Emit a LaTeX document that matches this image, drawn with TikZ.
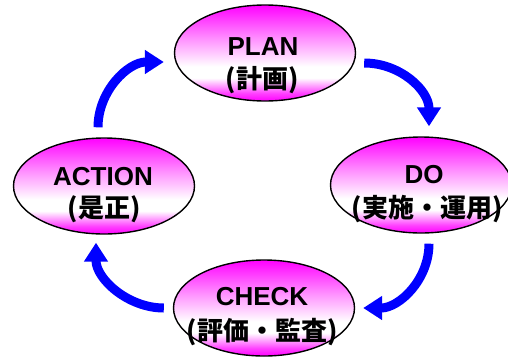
\documentclass[tikz,border=0pt]{standalone}
\usepackage{fontspec}
\setmainfont{Liberation Sans}
\newfontfamily\cjk{Noto Sans CJK JP}
\usetikzlibrary{shapes.geometric,arrows.meta}
\definecolor{mg}{RGB}{255,0,255}
\definecolor{ab}{RGB}{0,0,255}
\pgfdeclareverticalshading{pdca}{100bp}{color(0bp)=(mg); color(25bp)=(mg); color(29bp)=(mg!75!white); color(37bp)=(white); color(43bp)=(white); color(58bp)=(mg!45!white); color(75bp)=(mg); color(100bp)=(mg)}
\tikzset{
  phase/.style={ellipse, draw=black, line width=1.4pt, shade, shading=pdca,
    minimum width=181pt, minimum height=96pt, inner sep=0pt},
  lat/.style={font=\bfseries\fontsize{26}{26}\selectfont, anchor=base, inner sep=0pt},
  jp/.style={font=\cjk\bfseries\fontsize{26}{26}\selectfont, anchor=base, inner sep=0pt},
  arr/.style={draw=ab, line width=9pt, -{Triangle[length=19pt,width=23pt]}}
}
\begin{document}
\begin{tikzpicture}[x=1pt,y=-1pt]
\useasboundingbox (0,0) rectangle (508,359);
\fill[white] (0,0) rectangle (508,359);
\node[phase] (plan) at (265,53) {};
\node[phase] (do) at (421,185) {};
\node[phase] (check) at (264,308) {};
\node[phase] (action) at (104,186) {};
\node[lat] (planA) at (263,55) {PLAN};
\node[jp] (planB) at (262,88) {(計画)};
\node[lat] (doA) at (424,183) {DO};
\node[jp] (doB) at (427,217) {(実施・運用)};
\node[lat] (checkA) at (262,305) {CHECK};
\node[jp] (checkB) at (262,340) {(評価・監査)};
\node[lat] (actionA) at (103,185) {ACTION};
\node[jp] (actionB) at (104,217) {(是正)};
\draw[arr] ([shift={(8,10)}]plan.east) .. controls +(36,0) and +(0,-36) .. ([shift={(8,-10)}]do.north);
\draw[arr] ([shift={(8,10)}]do.south) .. controls +(0,36) and +(36,0) .. ([shift={(8,0)}]check.east);
\draw[arr] ([shift={(-9,0)}]check.west) .. controls +(-36,0) and +(0,36) .. ([shift={(-8,8)}]action.south);
\draw[arr] ([shift={(-6,-10)}]action.north) .. controls +(0,-36) and +(-36,0) .. ([shift={(-10,9)}]plan.west);
\end{tikzpicture}
\end{document}
